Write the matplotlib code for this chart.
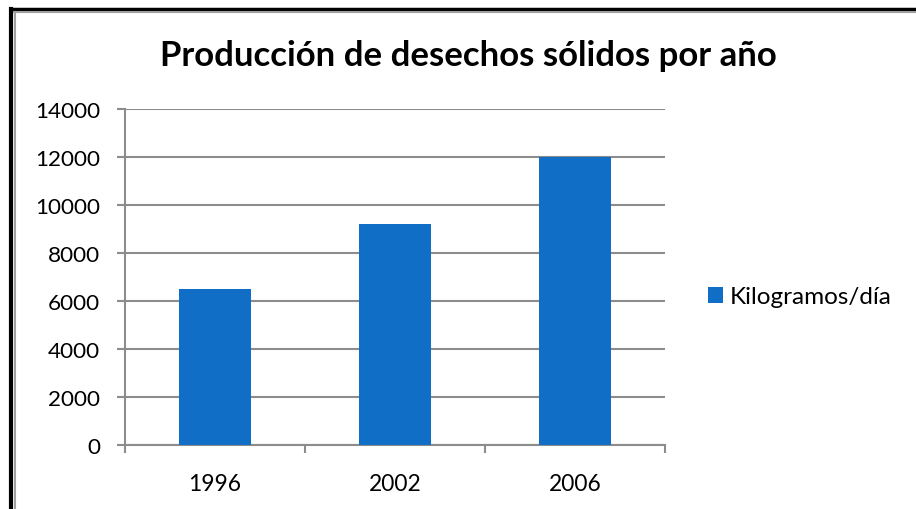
import matplotlib
matplotlib.use("Agg")
import matplotlib.pyplot as plt
from matplotlib.lines import Line2D

years = ["1996", "2002", "2006"]
kg_per_day = [6500, 9200, 12000]
y_ticks = [0, 2000, 4000, 6000, 8000, 10000, 12000, 14000]

plt.rcParams["font.family"] = ["Lato", "DejaVu Sans"]

fig = plt.figure(figsize=(9.16, 5.10), dpi=100)
ax = fig.add_axes([125 / 916, 1 - 446 / 510, 540 / 916, 336 / 510])

blue = "#106ec6"
grid = "#8c8c8c"
x = list(range(len(years)))
bars = ax.bar(x, kg_per_day, width=0.395, color=blue, zorder=3, label="Kilogramos/día")

ax.set_xlim(-0.5, len(years) - 0.5)
ax.set_ylim(0, 14000)
ax.set_yticks(y_ticks)
ax.set_yticklabels([str(v) for v in y_ticks], fontsize=16.2)
ax.yaxis.grid(True, color=grid, linewidth=1.5, zorder=0)

# category labels centered, tick marks on category boundaries
ax.set_xticks(x)
ax.set_xticklabels(years, fontsize=16.4)
ax.tick_params(axis="x", length=0, pad=20)
ax.set_xticks([i - 0.5 for i in range(len(years) + 1)], minor=True)
ax.tick_params(axis="x", which="minor", length=6, width=1.5, color=grid)
ax.tick_params(axis="y", length=6, width=1.5, color=grid, pad=12)

for side in ["top", "right"]:
    ax.spines[side].set_visible(False)
for side in ["left", "bottom"]:
    ax.spines[side].set_color(grid)
    ax.spines[side].set_linewidth(1.5)

fig.text(468 / 916, 1 - 56 / 510, "Producción de desechos sólidos por año",
         ha="center", va="center", fontsize=25, fontweight="bold")

fig.legend(handles=[bars], labels=["Kilogramos/día"], loc="center left",
           bbox_to_anchor=(686 / 916, 1 - 298 / 510), frameon=False,
           fontsize=17.5, handlelength=0.62, handleheight=0.62, handletextpad=0.3)

# frame lines at top and left
fig.add_artist(Line2D([11 / 916, 1], [1 - 10 / 510, 1 - 10 / 510], color="black", lw=2.5))
fig.add_artist(Line2D([11 / 916, 1], [1 - 12.5 / 510, 1 - 12.5 / 510], color="#a0a0a0", lw=1.5))
fig.add_artist(Line2D([11 / 916, 11 / 916], [0, 1 - 10 / 510], color="black", lw=3))
fig.add_artist(Line2D([15 / 916, 15 / 916], [0, 1 - 12.5 / 510], color="#a0a0a0", lw=1.5))

fig.savefig("out.png", dpi=100)
